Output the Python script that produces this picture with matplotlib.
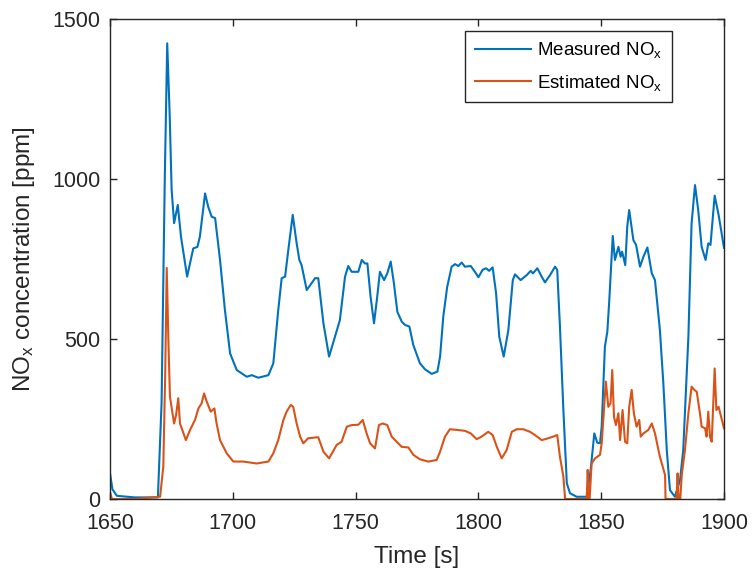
import numpy as np
import matplotlib
matplotlib.use('Agg')
from matplotlib import pyplot as plt

plt.rcParams['font.family'] = ['Liberation Sans', 'DejaVu Sans']
plt.rcParams['mathtext.fontset'] = 'custom'
plt.rcParams['mathtext.rm'] = 'Liberation Sans'
plt.rcParams['mathtext.it'] = 'Liberation Sans'

# measured NOx (time [s], ppm)
t_meas = [1650, 1651, 1652.8, 1660, 1669.5, 1671, 1672.3, 1673.3, 1674.3, 1675.1, 1676.1, 1677.6,
          1678.9, 1681.4, 1683.9, 1685.6, 1686.6, 1688.7, 1690, 1691.4, 1692.8, 1694.8, 1696.8,
          1698.9, 1701.6, 1705.7, 1707.7, 1710.4, 1714.5, 1716.5, 1718.5, 1719.9, 1721.3, 1722.6,
          1724.4, 1726, 1727.1, 1728, 1730.1, 1733.5, 1734.8, 1736.9, 1739.2, 1741.6, 1743.6,
          1745.7, 1747, 1748.4, 1751.1, 1752.5, 1753.8, 1754.8, 1756.1, 1757.5, 1758.8, 1759.9,
          1761.6, 1762.9, 1764.3, 1765.6, 1767, 1768.8, 1770.1, 1771.9, 1773.5, 1776.2, 1778.3,
          1781, 1783.3, 1784.4, 1785.7, 1787.3, 1789.1, 1790.5, 1791.8, 1793.2, 1794.5, 1796.9,
          1798.6, 1800, 1801.7, 1803.1, 1804.4, 1805.8, 1807.2, 1808.5, 1810.3, 1812.2, 1814,
          1814.9, 1817.2, 1819.7, 1821.3, 1822.2, 1824, 1825.4, 1827.1, 1829.2, 1831.2, 1832.1,
          1833.2, 1834.6, 1836, 1837.3, 1840, 1844.1, 1845.7, 1847.2, 1848.4, 1849.5, 1850.2,
          1851.5, 1852.5, 1853.3, 1854.7, 1855.6, 1857, 1857.9, 1858.5, 1859.8, 1860.6, 1861.4,
          1863.1, 1864.2, 1865.8, 1867.2, 1868.8, 1870.6, 1871.9, 1873.9, 1875.3, 1876.7, 1878,
          1880, 1882.1, 1883.4, 1885.5, 1886.8, 1888.2, 1889.5, 1890.9, 1892.5, 1893.6, 1894.5,
          1896.2, 1897.8, 1900]
v_meas = [80, 30, 10, 5, 5, 300, 1000, 1424, 1200, 966, 862, 919,
          820, 695, 783, 788, 820, 955, 913, 882, 878, 747, 590,
          455, 403, 382, 387, 379, 387, 424, 590, 690, 695, 778,
          888, 799, 747, 731, 653, 690, 690, 549, 445, 507, 559,
          695, 728, 710, 710, 747, 736, 736, 632, 549, 632, 710,
          684, 705, 742, 674, 585, 554, 544, 539, 481, 424, 405,
          391, 398, 445, 570, 663, 726, 734, 728, 739, 726, 728,
          710, 693, 716, 721, 713, 724, 643, 507, 445, 528, 684,
          702, 684, 700, 713, 705, 721, 700, 677, 700, 726, 716,
          539, 278, 49, 18, 7, 7, 91, 205, 176, 174, 226,
          476, 523, 622, 822, 747, 788, 757, 773, 731, 851, 903,
          809, 794, 726, 757, 786, 705, 684, 528, 362, 153, 28,
          7, 59, 153, 507, 861, 981, 903, 788, 747, 799, 794,
          948, 888, 785]

# estimated NOx
t_est = [1650, 1650.8, 1660, 1670.4, 1671.7, 1672.5, 1673.1, 1673.8, 1674.4, 1676.1, 1676.9, 1677.8,
         1678.5, 1680.9, 1682.6, 1684.6, 1686, 1687.3, 1688.3, 1689.4, 1691, 1692.5, 1693.4,
         1694.8, 1697.5, 1700.2, 1704.3, 1709.7, 1714.5, 1716.5, 1718.5, 1720.6, 1721.9, 1723.6,
         1724.6, 1726, 1727.4, 1728.7, 1730.7, 1734.8, 1736.9, 1739.2, 1742.3, 1744.3, 1746.4,
         1748.4, 1751.1, 1752.9, 1754.5, 1755.9, 1757.9, 1759.5, 1761, 1762.9, 1764.7, 1766.7,
         1768.8, 1771.5, 1773.5, 1776.2, 1779.6, 1783, 1784.4, 1786.4, 1788.4, 1791.2, 1794.5,
         1796.9, 1799.3, 1801.3, 1804, 1805.8, 1807.5, 1809.5, 1811.5, 1813.6, 1815.6, 1818.3,
         1821, 1823, 1825.8, 1828.5, 1830.5, 1832.1, 1833.2, 1834.6, 1835.3, 1844.1, 1844.5,
         1844.9, 1845.3, 1846.1, 1847.5, 1849.5, 1850.2, 1851.1, 1851.9, 1852.9, 1853.8, 1854.5,
         1855.2, 1856, 1857, 1857.7, 1858.7, 1859.7, 1860.6, 1861.4, 1862.4, 1863.3, 1864.4,
         1865.5, 1866.1, 1867.2, 1869.2, 1870.6, 1871.9, 1873.9, 1876, 1876.2, 1880.7, 1881.1,
         1881.5, 1882.2, 1882.8, 1884.1, 1885.5, 1886.8, 1887.9, 1888.9, 1890.2, 1890.9, 1892.3,
         1892.9, 1893.6, 1894.3, 1895, 1896.2, 1896.9, 1897.8, 1900]
v_est = [20, 0, 0, 7, 101, 400, 722, 487, 320, 236, 262, 315,
         236, 184, 216, 247, 283, 299, 330, 304, 273, 283, 236,
         184, 143, 117, 117, 111, 117, 143, 184, 247, 273, 294,
         288, 236, 195, 174, 190, 193, 148, 127, 169, 179, 226,
         231, 232, 247, 205, 174, 158, 231, 236, 231, 195, 179,
         163, 161, 138, 124, 117, 122, 148, 195, 218, 216, 213,
         205, 187, 195, 210, 200, 163, 127, 153, 210, 218, 218,
         210, 200, 184, 190, 195, 200, 132, 70, 0, 0, 91,
         0, 0, 111, 127, 138, 174, 278, 367, 288, 299, 403,
         257, 231, 268, 184, 278, 179, 174, 288, 341, 268, 226,
         247, 195, 205, 216, 236, 205, 132, 75, 0, 0, 80,
         0, 0, 75, 153, 268, 351, 341, 335, 268, 226, 221,
         195, 273, 195, 179, 408, 278, 288, 221]

blue = '#0072BD'
orange = '#D95319'
dark = '#262626'

fig = plt.figure(figsize=(7.52, 5.72), dpi=100)
ax = fig.add_axes([110 / 752, 1 - 499 / 572, 614 / 752, 480 / 572])

ax.plot(t_meas, v_meas, color=blue, lw=1.5, label=r'Measured NO$_\mathregular{x}$')
ax.plot(t_est, v_est, color=orange, lw=1.5, label=r'Estimated NO$_\mathregular{x}$')

ax.set_xlim(1650, 1900)
ax.set_ylim(0, 1500)
ax.set_xticks([1650, 1700, 1750, 1800, 1850, 1900])
ax.set_yticks([0, 500, 1000, 1500])
ax.tick_params(direction='in', top=True, right=True, length=5, width=1,
               colors=dark, labelsize=15.5)
ax.tick_params(axis='x', pad=10)
ax.tick_params(axis='y', pad=7)
for s in ax.spines.values():
    s.set_color(dark)
    s.set_linewidth(1)

ax.set_xlabel('Time [s]', fontsize=17.5, color=dark, labelpad=9)
ax.set_ylabel(r'NO$_\mathregular{x}$ concentration [ppm]', fontsize=17.5, color=dark, labelpad=11)

leg = ax.legend(loc='upper right', bbox_to_anchor=(672 / 752, 1 - 31 / 572),
                bbox_transform=fig.transFigure, borderaxespad=0, fontsize=13.5,
                fancybox=False, edgecolor=dark, handlelength=3.0, handletextpad=0.35,
                borderpad=0.5, labelspacing=0.65, framealpha=1)
leg.get_frame().set_linewidth(1)

fig.savefig('out.png', dpi=100)
